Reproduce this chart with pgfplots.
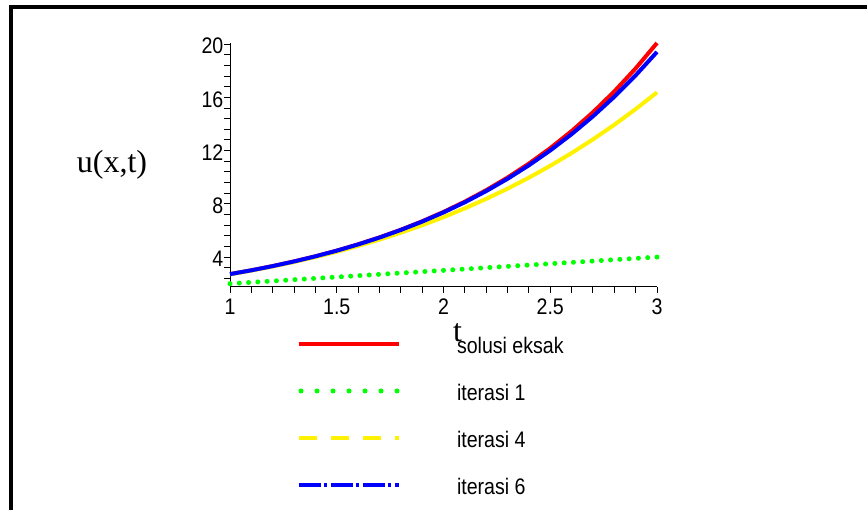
\documentclass[border=0pt]{standalone}
\usepackage{pgfplots}
\pgfplotsset{compat=1.18}
\usepackage{fontspec}
\setmainfont{Liberation Serif}
\newfontfamily\maplesans[FakeStretch=0.87]{Liberation Sans}
\newcommand{\mapfont}{\maplesans\fontsize{22.5}{25}\selectfont}
\begin{document}
\begin{tikzpicture}[x=1pt,y=1pt]
\useasboundingbox (0,0) rectangle (867,510);
\draw[line width=4.3pt, line join=miter] (10.7,0) -- (10.7,502.8) -- (867,502.8);
\begin{axis}[
  at={(230pt,223pt)}, anchor=south west,
  scale only axis, width=427pt, height=244.2pt,
  xmin=1, xmax=3, ymin=1.75, ymax=20.1,
  axis lines*=left,
  axis line style={line width=1pt, black},
  xtick={1,1.5,2,2.5,3}, minor x tick num=4,
  ytick={4,8,12,16,20},
  minor ytick={2.4,3.2,4.8,5.6,6.4,7.2,8.8,9.6,10.4,11.2,12.8,13.6,14.4,15.2,16.8,17.6,18.4,19.2},
  tick align=outside,
  tick style={line width=1pt, black},
  major tick length=6pt, minor tick length=6pt,
  ticklabel style={font=\mapfont},
  xticklabel style={yshift=-2pt},
  yticklabel style={inner sep=0.5pt, yshift=-2pt},
  /pgf/number format/assume math mode=true,
  clip=false,
  legend image code/.code={\path[draw=none,fill=none] (0pt,-18pt) rectangle (100pt,29pt); \draw[#1] (0pt,2.5pt) -- (100pt,2.5pt);},
  legend style={draw=none, fill=none, at={(0.15457,-0.12484)}, anchor=north west,
    inner sep=0pt, outer sep=0pt, row sep=0pt, column sep=56pt, font=\mapfont,
    nodes={inner sep=0pt}},
  legend cell align=left,
]
\addplot[red, line width=4pt, forget plot] coordinates {
(1.0,2.71828) (1.1,3.00417) (1.2,3.32012) (1.3,3.66930) (1.4,4.05520)
(1.5,4.48169) (1.6,4.95303) (1.7,5.47395) (1.8,6.04965) (1.9,6.68589)
(2.0,7.38906) (2.1,8.16617) (2.2,9.02501) (2.3,9.97418) (2.4,11.02318)
(2.5,12.18249) (2.6,13.46374) (2.7,14.87973) (2.8,16.44465) (2.9,18.17415)
(3.0,20.08554)};
\addplot[green, line width=5pt, line cap=round, dash pattern=on 0pt off 9.3pt, forget plot] coordinates {
(1.0,2.0) (1.1,2.1) (1.2,2.2) (1.3,2.3) (1.4,2.4) (1.5,2.5) (1.6,2.6)
(1.7,2.7) (1.8,2.8) (1.9,2.9) (2.0,3.0) (2.1,3.1) (2.2,3.2) (2.3,3.3)
(2.4,3.4) (2.5,3.5) (2.6,3.6) (2.7,3.7) (2.8,3.8) (2.9,3.9) (3.0,4.0)};
\addplot[yellow, line width=4pt, forget plot] coordinates {
(1.0,2.708333) (1.1,2.987837) (1.2,3.2944) (1.3,3.630171) (1.4,3.9974)
(1.5,4.398438) (1.6,4.835733) (1.7,5.311837) (1.8,5.8294) (1.9,6.391171)
(2.0,7.0) (2.1,7.658838) (2.2,8.370733) (2.3,9.138838) (2.4,9.9664)
(2.5,10.856771) (2.6,11.8134) (2.7,12.839838) (2.8,13.939733) (2.9,15.116838)
(3.0,16.375)};
\addplot[blue, line width=4pt, forget plot] coordinates {
(1.0,2.718056) (1.1,3.003718) (1.2,3.319283) (1.3,3.667816) (1.4,4.052677)
(1.5,4.477539) (1.6,4.946416) (1.7,5.463682) (1.8,6.034103) (1.9,6.662855)
(2.0,7.355556) (2.1,8.1183) (2.2,8.957674) (2.3,9.880805) (2.4,10.895373)
(2.5,12.009657) (2.6,13.232565) (2.7,14.573664) (2.8,16.043222) (2.9,17.652244)
(3.0,19.4125)};
\addlegendimage{red, line width=4pt}
\addlegendentry{solusi eksak}
\addlegendimage{green, line width=5pt, line cap=round, dash pattern=on 0pt off 16pt, dash phase=-2.5pt}
\addlegendentry{iterasi 1}
\addlegendimage{yellow, line width=4pt, dash pattern=on 18pt off 14pt}
\addlegendentry{iterasi 4}
\addlegendimage{blue, line width=4.5pt, dash pattern=on 22pt off 3.5pt on 2.5pt off 4pt}
\addlegendentry{iterasi 6}
\end{axis}
\node[anchor=base, font=\fontsize{32}{36}\selectfont, inner sep=0pt] at (112,337) {u(x,t)};
\node[anchor=base, font=\fontsize{32}{36}\selectfont, inner sep=0pt] at (457.5,168.5) {t};
\end{tikzpicture}
\end{document}
